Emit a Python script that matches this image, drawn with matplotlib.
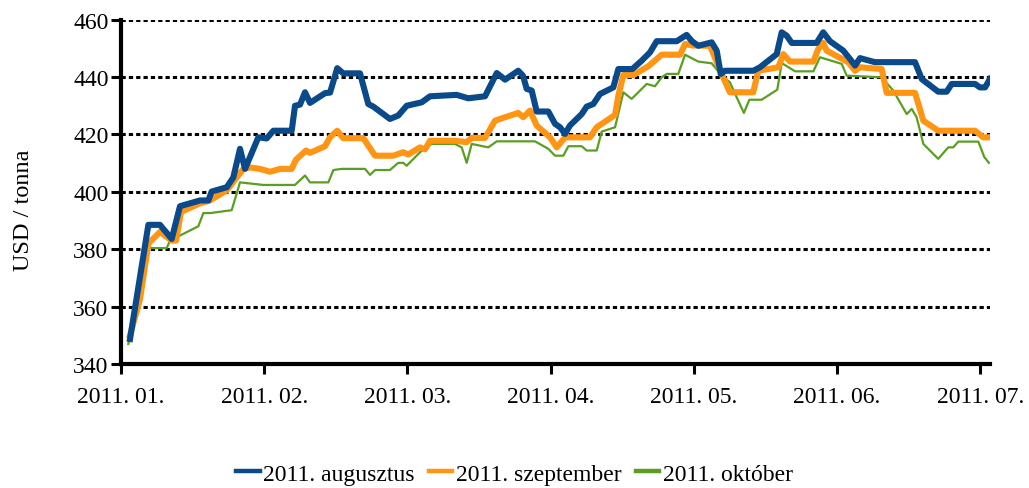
import matplotlib
matplotlib.use("Agg")
import matplotlib.pyplot as plt

plt.rcParams["font.family"] = ["Liberation Serif", "DejaVu Serif"]

# x positions in months from 2011-01 (0 = 2011. 01., 6 = 2011. 07.)
month_labels = ["2011. 01.", "2011. 02.", "2011. 03.", "2011. 04.",
                "2011. 05.", "2011. 06.", "2011. 07."]

aug_x = [0.063, 0.191, 0.272, 0.354, 0.412, 0.552, 0.610, 0.633, 0.738, 0.784,
         0.831, 0.866, 0.959, 1.017, 1.064, 1.192, 1.215, 1.250, 1.285, 1.320,
         1.425, 1.460, 1.510, 1.552, 1.669, 1.727, 1.762, 1.878, 1.936, 1.995,
         2.100, 2.158, 2.344, 2.425, 2.542, 2.624, 2.682, 2.774, 2.807, 2.833,
         2.868, 2.903, 2.984, 3.031, 3.066, 3.101, 3.135, 3.217, 3.252, 3.298,
         3.345, 3.438, 3.473, 3.571, 3.636, 3.694, 3.741, 3.881, 3.950, 3.987,
         4.031, 4.125, 4.160, 4.188, 4.218, 4.415, 4.462, 4.579, 4.614, 4.649,
         4.684, 4.858, 4.904, 4.951, 5.044, 5.091, 5.126, 5.161, 5.265, 5.545,
         5.592, 5.707, 5.766, 5.801, 5.964, 5.998, 6.034, 6.068]
aug_y = [348.7, 388.5, 388.5, 383.6, 395.0, 397.0, 397.0, 400.1, 401.6, 405.0,
         415.0, 408.0, 419.0, 418.6, 421.3, 421.3, 430.0, 430.4, 434.7, 431.0,
         434.4, 434.6, 443.1, 441.3, 441.3, 430.6, 429.7, 425.4, 426.6, 430.0,
         431.2, 433.3, 433.8, 432.6, 433.3, 441.4, 439.1, 442.2, 440.5, 435.9,
         435.3, 428.0, 428.0, 423.7, 422.5, 420.2, 423.1, 427.1, 429.7, 430.6,
         434.1, 436.4, 442.8, 442.8, 445.7, 448.6, 452.5, 452.5, 454.7, 452.5,
         450.9, 452.1, 449.2, 441.1, 442.2, 442.2, 443.4, 448.0, 455.6, 454.4,
         451.9, 451.9, 455.6, 452.5, 449.2, 446.3, 444.0, 446.6, 445.2, 445.2,
         439.3, 434.9, 434.9, 437.6, 437.6, 436.4, 436.4, 439.3]

sep_x = [0.063, 0.133, 0.191, 0.272, 0.354, 0.384, 0.419, 0.552, 0.621, 0.738,
         0.854, 0.901, 0.971, 1.041, 1.110, 1.192, 1.222, 1.292, 1.320, 1.425,
         1.459, 1.510, 1.552, 1.692, 1.774, 1.902, 1.971, 2.006, 2.088, 2.123,
         2.158, 2.332, 2.414, 2.449, 2.542, 2.612, 2.658, 2.774, 2.809, 2.856,
         2.903, 2.996, 3.043, 3.101, 3.275, 3.322, 3.450, 3.473, 3.508, 3.578,
         3.683, 3.776, 3.904, 3.939, 3.994, 4.113, 4.205, 4.252, 4.415, 4.450,
         4.590, 4.625, 4.672, 4.835, 4.869, 4.904, 4.928, 5.079, 5.126, 5.161,
         5.312, 5.347, 5.545, 5.603, 5.707, 5.964, 6.022, 6.068]
sep_y = [350.0, 362.7, 382.0, 386.0, 383.0, 383.0, 393.0, 396.0, 397.0, 400.5,
         408.0, 408.5, 408.0, 407.0, 408.0, 408.0, 411.2, 414.4, 413.6, 415.9,
         419.0, 421.3, 418.7, 418.7, 412.6, 412.6, 413.8, 413.0, 415.5, 414.8,
         417.8, 417.8, 417.3, 418.8, 418.8, 424.8, 425.6, 427.5, 426.0, 428.3,
         423.1, 419.0, 415.5, 419.0, 419.0, 422.5, 426.8, 433.5, 440.7, 440.7,
         443.8, 447.8, 447.8, 451.5, 451.0, 450.9, 439.9, 434.7, 434.7, 442.2,
         443.4, 448.0, 445.4, 445.4, 449.8, 451.9, 449.2, 445.2, 442.2, 443.4,
         442.8, 434.5, 434.5, 424.8, 421.3, 421.3, 419.0, 419.0]

oct_x = [0.051, 0.191, 0.319, 0.342, 0.540, 0.575, 0.622, 0.773, 0.831, 0.994,
         1.215, 1.285, 1.320, 1.448, 1.483, 1.541, 1.704, 1.739, 1.774, 1.878,
         1.936, 1.971, 1.995, 2.088, 2.170, 2.332, 2.379, 2.414, 2.449, 2.565,
         2.624, 2.891, 2.984, 3.031, 3.089, 3.124, 3.217, 3.252, 3.322, 3.357,
         3.450, 3.508, 3.566, 3.671, 3.729, 3.776, 3.811, 3.892, 3.939, 4.031,
         4.125, 4.205, 4.252, 4.299, 4.350, 4.388, 4.474, 4.583, 4.614, 4.707,
         4.835, 4.881, 5.033, 5.068, 5.312, 5.393, 5.487, 5.522, 5.556, 5.603,
         5.707, 5.777, 5.812, 5.847, 5.987, 6.029, 6.061]
oct_y = [347.0, 380.4, 380.4, 383.0, 388.0, 392.6, 392.6, 393.6, 403.3, 402.4,
         402.4, 405.7, 403.3, 403.3, 407.6, 408.0, 408.0, 405.9, 407.6, 407.6,
         410.1, 410.1, 409.1, 413.8, 416.7, 416.7, 415.5, 410.1, 416.7, 415.5,
         417.6, 417.6, 415.0, 412.6, 412.6, 415.9, 415.9, 414.4, 414.4, 421.0,
         422.5, 434.7, 432.4, 437.6, 436.8, 439.9, 441.1, 441.1, 447.8, 445.4,
         444.8, 439.9, 438.2, 433.0, 427.5, 432.1, 432.1, 435.6, 444.9, 442.0,
         442.0, 446.9, 444.6, 440.5, 439.9, 435.3, 427.1, 428.9, 426.0, 416.7,
         411.5, 415.5, 415.5, 417.5, 417.5, 412.1, 410.1]

series_names = ["2011. augusztus", "2011. szeptember", "2011. október"]
colors = ["#0a4a8a", "#ff9512", "#5a9e22"]

fig = plt.figure(figsize=(10.29, 4.89), dpi=100)
ax = fig.add_axes([0.1176, 0.2536, 0.8447, 0.7041])

ax.plot(oct_x, oct_y, color=colors[2], lw=1.6, zorder=3, label=series_names[2])
ax.plot(sep_x, sep_y, color=colors[1], lw=4.4, zorder=4, label=series_names[1],
        solid_joinstyle="round")
ax.plot(aug_x, aug_y, color=colors[0], lw=4.4, zorder=5, label=series_names[0],
        solid_joinstyle="round")

ax.set_xlim(0, 6.07)
ax.set_ylim(340, 460)
ax.set_xticks(range(len(month_labels)))
ax.set_xticklabels(month_labels)
ax.set_yticks(range(340, 461, 20))

for y in range(360, 461, 20):
    ax.axhline(y, color="black", lw=2.2, linestyle=(0, (1.4, 1.0)), zorder=1)

for side in ("top", "right"):
    ax.spines[side].set_visible(False)
ax.spines["left"].set_linewidth(3)
ax.spines["bottom"].set_linewidth(3)
ax.tick_params(axis="both", direction="out", length=7, width=2.2,
               labelsize=17, colors="black")
ax.tick_params(axis="x", pad=9)
ax.tick_params(axis="y", pad=2)

ax.set_ylabel("USD / tonna", fontsize=17.5)
ax.yaxis.set_label_coords(-0.100, 0.45)

handles, labels = ax.get_legend_handles_labels()
order = [2, 1, 0]
leg = fig.legend([handles[i] for i in order], [labels[i] for i in order],
                 loc="center", bbox_to_anchor=(0.5, 0.029), ncol=3,
                 frameon=False, fontsize=17, handlelength=1.0,
                 handletextpad=0.15, columnspacing=0.6)
for line in leg.get_lines():
    line.set_linewidth(3.2)

fig.savefig("out.png", dpi=100)
